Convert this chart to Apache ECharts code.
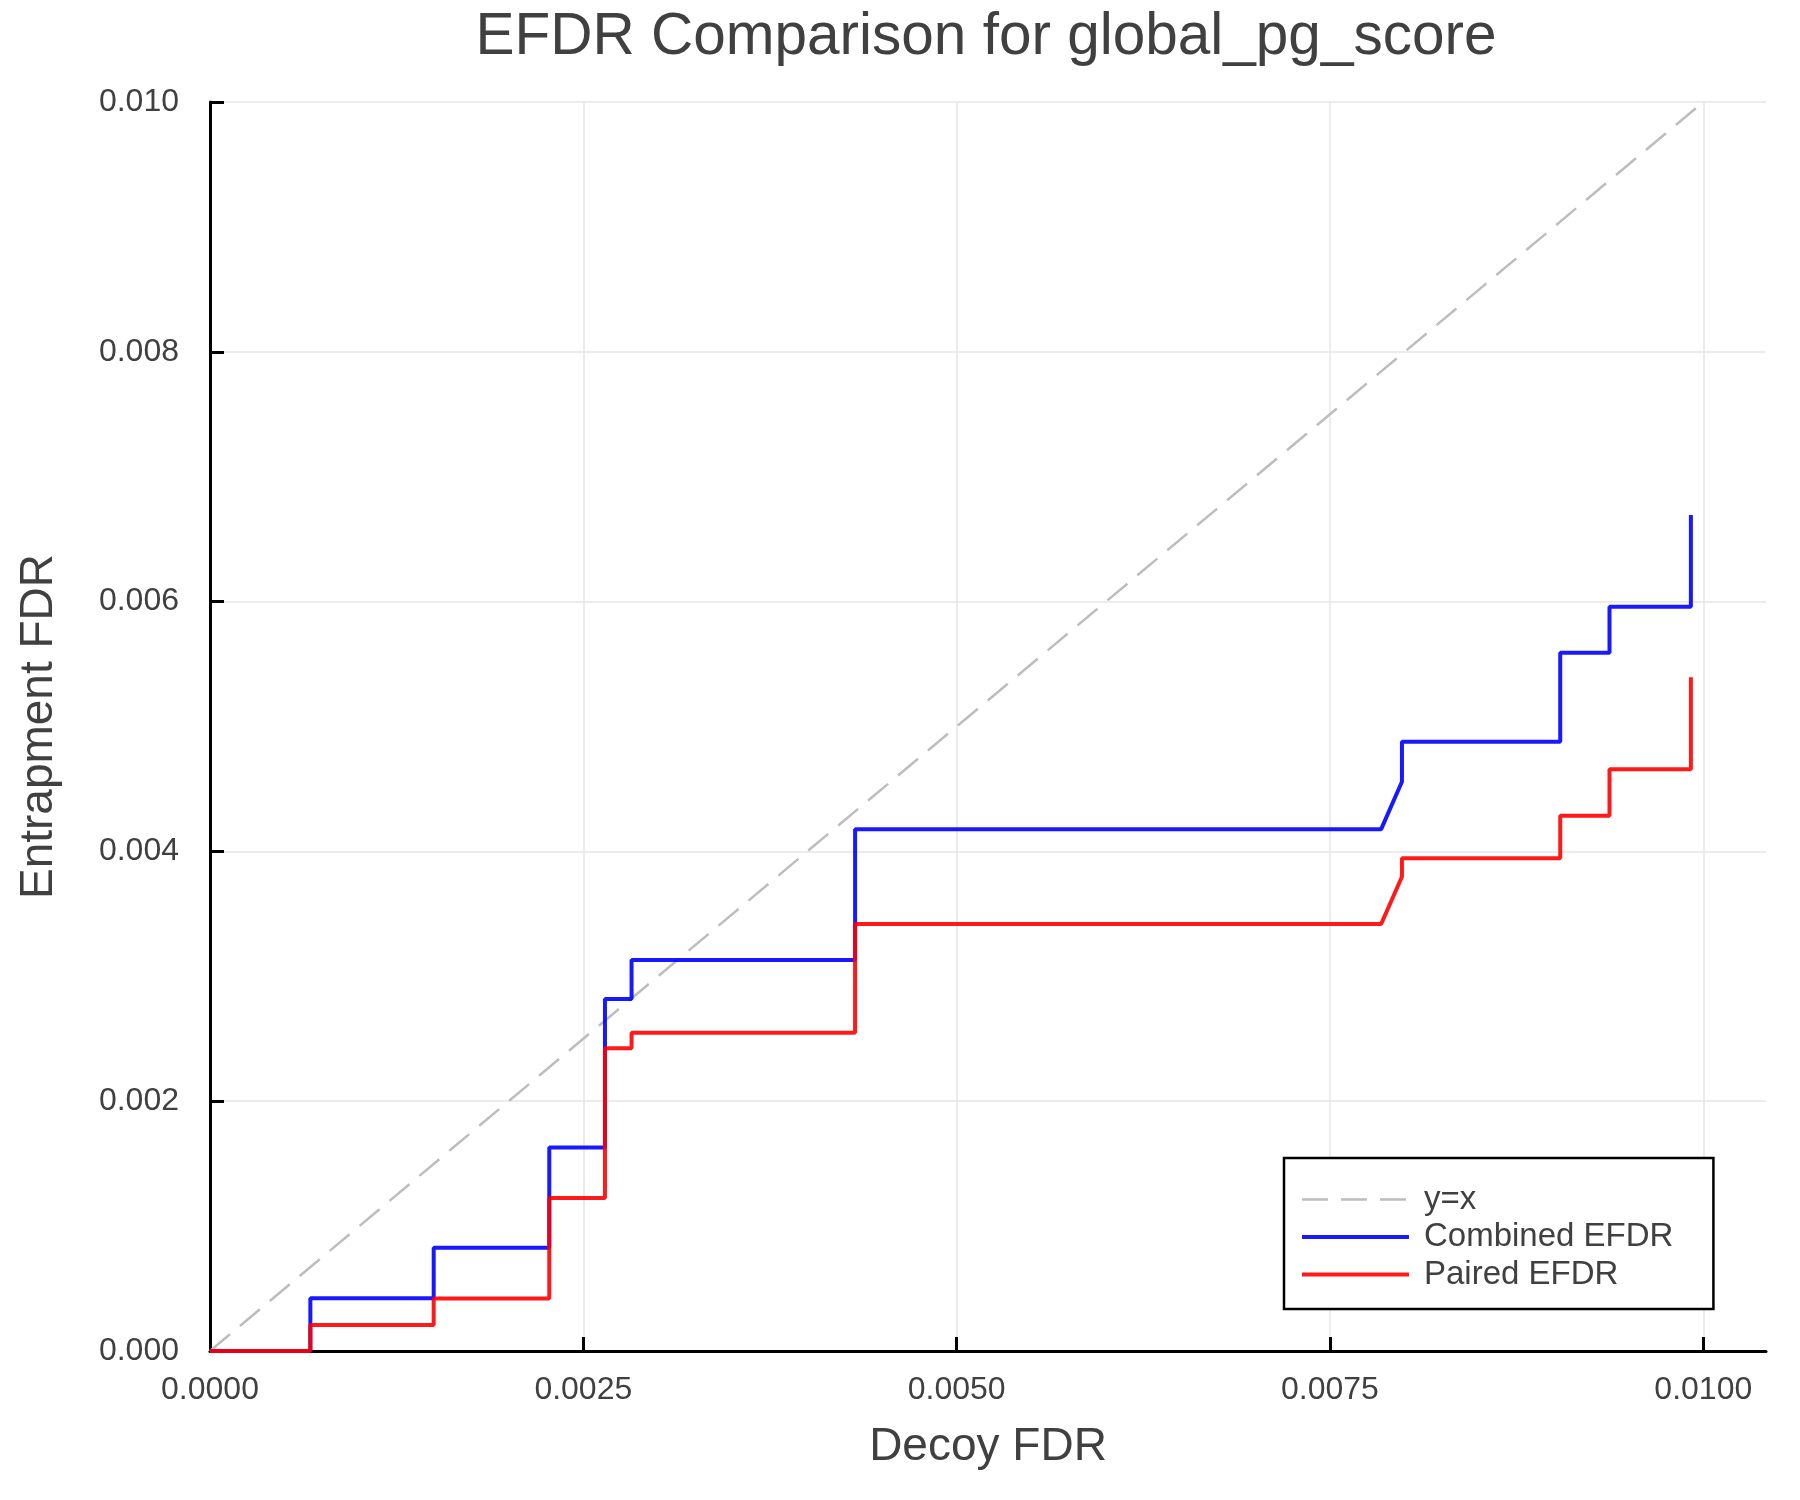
<!DOCTYPE html>
<html>
<head>
<meta charset="utf-8">
<title>EFDR Comparison for global_pg_score</title>
<script src="https://cdn.jsdelivr.net/npm/echarts@6/dist/echarts.min.js"></script>
<style>
  html, body { margin: 0; padding: 0; background: #ffffff; }
  #efdr-chart { width: 1800px; height: 1500px; }
</style>
</head>
<body>
<div id="efdr-chart"></div>
<script>
// Data
var decoyFdr = [0, 0.000672, 0.000672, 0.001498, 0.001498, 0.002272, 0.002272, 0.002645, 0.002645, 0.002823, 0.002823,
  0.004320, 0.004320, 0.007843, 0.007982, 0.007982, 0.009042, 0.009042, 0.009372, 0.009372, 0.009917, 0.009917];
var combinedEfdr = [0, 0, 0.000422, 0.000422, 0.000827, 0.000827, 0.001630, 0.001630, 0.002818, 0.002818, 0.003131,
  0.003131, 0.004178, 0.004178, 0.004558, 0.004878, 0.004878, 0.005591, 0.005591, 0.005959, 0.005959, 0.006693];
var pairedEfdr = [0, 0, 0.000208, 0.000208, 0.000420, 0.000420, 0.001224, 0.001224, 0.002423, 0.002423, 0.002549,
  0.002549, 0.003419, 0.003419, 0.003797, 0.003945, 0.003945, 0.004286, 0.004286, 0.004657, 0.004657, 0.005394];
var diagX = [0, 0.01];
var diagY = [0, 0.01];

var seriesNames = ["y=x", "Combined EFDR", "Paired EFDR"];

var xTickValues = [0, 0.0025, 0.005, 0.0075, 0.01];
var xTickLabels = ["0.0000", "0.0025", "0.0050", "0.0075", "0.0100"];
var yTickValues = [0, 0.002, 0.004, 0.006, 0.008, 0.01];
var yTickLabels = ["0.000", "0.002", "0.004", "0.006", "0.008", "0.010"];

function pairs(xs, ys) {
  var out = [];
  for (var i = 0; i < xs.length; i++) out.push([xs[i], ys[i]]);
  return out;
}

function lookupLabel(values, labels) {
  return function (v) {
    for (var i = 0; i < values.length; i++) {
      if (Math.abs(values[i] - v) < 1e-9) return labels[i];
    }
    return "";
  };
}

var FONT = "Liberation Sans";
var TEXT = "#404040";
var GRID = "#e6e6e6";

var chart = echarts.init(document.getElementById("efdr-chart"), null, { renderer: "canvas" });

var option = {
  animation: false,
  backgroundColor: "#ffffff",
  title: {
    text: "EFDR Comparison for global_pg_score",
    left: 981,
    textAlign: "center",
    top: 3,
    textStyle: { fontFamily: FONT, fontSize: 58.5, fontWeight: "normal", color: TEXT },
  },
  grid: { left: 210, right: 34, top: 102, bottom: 149, containLabel: false },
  legend: {
    orient: "vertical",
    left: 1284,
    top: 1158,
    data: seriesNames,
    itemWidth: 107,
    itemHeight: 14,
    itemGap: 0.5,
    padding: [23, 40, 16, 16],
    borderColor: "#000000",
    borderWidth: 2.5,
    backgroundColor: "#ffffff",
    itemStyle: { opacity: 0 },
    lineStyle: { width: "inherit" },
    textStyle: { fontFamily: FONT, fontSize: 33, color: TEXT, lineHeight: 37, padding: [0, 0, 0, 10] },
  },
  xAxis: {
    type: "value",
    min: 0,
    max: 0.01042,
    name: "Decoy FDR",
    nameLocation: "middle",
    nameGap: 73,
    nameTextStyle: { fontFamily: FONT, fontSize: 46, color: TEXT },
    axisLine: { show: true, lineStyle: { color: "#000000", width: 3 } },
    axisTick: { show: true, inside: true, length: 14, customValues: xTickValues, lineStyle: { color: "#000000", width: 3 } },
    axisLabel: {
      customValues: xTickValues,
      margin: 23,
      fontFamily: FONT,
      fontSize: 32,
      color: TEXT,
      formatter: lookupLabel(xTickValues, xTickLabels),
    },
    splitLine: { show: true, lineStyle: { color: [GRID, GRID, GRID, GRID, GRID, "rgba(0,0,0,0)"], width: 1.5 } },
  },
  yAxis: {
    type: "value",
    min: 0,
    max: 0.01,
    interval: 0.002,
    name: "Entrapment FDR",
    nameLocation: "middle",
    nameGap: 148,
    nameTextStyle: { fontFamily: FONT, fontSize: 46, color: TEXT },
    axisLine: { show: true, lineStyle: { color: "#000000", width: 3 } },
    axisTick: { show: true, inside: true, length: 14, lineStyle: { color: "#000000", width: 3 } },
    axisLabel: {
      margin: 31,
      fontFamily: FONT,
      fontSize: 32,
      color: TEXT,
      formatter: lookupLabel(yTickValues, yTickLabels),
    },
    splitLine: { show: true, lineStyle: { color: GRID, width: 1.5 } },
  },
  series: [
    {
      name: seriesNames[0],
      type: "line",
      data: pairs(diagX, diagY),
      symbol: "none",
      lineStyle: { color: "#bdbdbd", width: 2.5, type: [26, 13] },
      itemStyle: { color: "#bdbdbd" },
      z: 2,
    },
    {
      name: seriesNames[1],
      type: "line",
      data: pairs(decoyFdr, combinedEfdr),
      symbol: "none",
      lineStyle: { color: "rgba(0,0,255,0.9)", width: 4 },
      itemStyle: { color: "rgba(0,0,255,0.9)" },
      z: 3,
    },
    {
      name: seriesNames[2],
      type: "line",
      data: pairs(decoyFdr, pairedEfdr),
      symbol: "none",
      lineStyle: { color: "rgba(255,0,0,0.9)", width: 4 },
      itemStyle: { color: "rgba(255,0,0,0.9)" },
      z: 4,
    },
  ],
};

chart.setOption(option);
window.onresize = chart.resize;
</script>
</body>
</html>
